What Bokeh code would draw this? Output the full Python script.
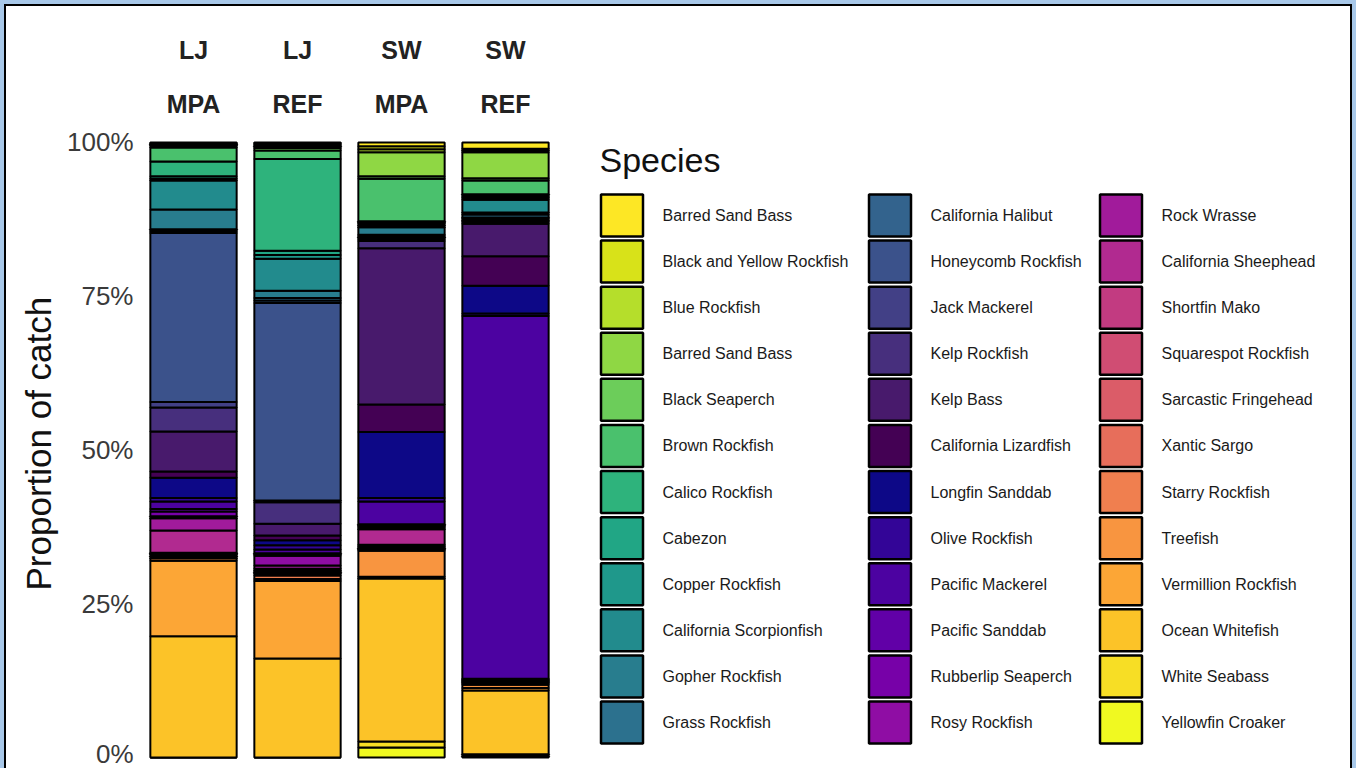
from bokeh.plotting import figure
from bokeh.models import ColumnDataSource, Range1d, FixedTicker, NumeralTickFormatter, Title
from bokeh.core.properties import value
from bokeh.embed import file_html
from bokeh.resources import INLINE

# ---------------- data ----------------
regions = ["LJ", "LJ", "SW", "SW"]
zones = ["MPA", "REF", "MPA", "REF"]
sites = [f"{r} {z}" for r, z in zip(regions, zones)]

species = [
    "Barred Sand Bass", "Black and Yellow Rockfish", "Blue Rockfish", "Barred Sand Bass",
    "Black Seaperch", "Brown Rockfish", "Calico Rockfish", "Cabezon",
    "Copper Rockfish", "California Scorpionfish", "Gopher Rockfish", "Grass Rockfish",
    "California Halibut", "Honeycomb Rockfish", "Jack Mackerel", "Kelp Rockfish",
    "Kelp Bass", "California Lizardfish", "Longfin Sanddab", "Olive Rockfish",
    "Pacific Mackerel", "Pacific Sanddab", "Rubberlip Seaperch", "Rosy Rockfish",
    "Rock Wrasse", "California Sheephead", "Shortfin Mako", "Squarespot Rockfish",
    "Sarcastic Fringehead", "Xantic Sargo", "Starry Rockfish", "Treefish",
    "Vermillion Rockfish", "Ocean Whitefish", "White Seabass", "Yellowfin Croaker",
]

colors = [
    "#FDE725", "#D8E219", "#B5DE2B", "#8FD744", "#6CCD5A", "#4AC16D",
    "#2EB37C", "#21A685", "#1F988B", "#228B8D", "#287D8E", "#2C718E",
    "#33638D", "#3B528B", "#424086", "#472F7D", "#481A6C", "#440154",
    "#0D0887", "#330597", "#4C02A1", "#6100A7", "#7701A8", "#8F0DA4",
    "#A11B9B", "#B12A90", "#C23B81", "#D04D73", "#DB5C68", "#E76E5B",
    "#F07F4F", "#F89540", "#FCA636", "#FCC328", "#F7DE25", "#F0F921",
]

# percent of catch, in the legend order above
lj_mpa = [0.1, 0.1, 0.1, 0.2, 0.3, 2.3, 2.4, 0.4, 0.3, 4.7, 3.2, 0.3,
          0.3, 27.5, 0.9, 3.9, 6.5, 1.0, 3.3, 0.6, 1.2, 0.4, 0.8, 0.3,
          2.0, 3.6, 0.0, 0.1, 0.2, 0.3, 0.3, 0.4, 12.3, 19.7, 0.0, 0.0]
lj_ref = [0.2, 0.2, 0.2, 0.3, 0.4, 1.4, 14.9, 0.7, 0.6, 5.2, 1.2, 0.4,
          0.4, 32.1, 0.3, 3.5, 1.9, 0.8, 0.8, 0.7, 0.6, 0.2, 0.2, 1.6,
          0.5, 0.3, 0.1, 0.2, 0.2, 0.3, 0.6, 0.3, 12.6, 16.1, 0.0, 0.0]
sw_mpa = [0.6, 0.5, 0.5, 3.9, 0.4, 6.9, 0.2, 0.2, 0.3, 0.3, 1.2, 0.2,
          0.2, 0.3, 0.3, 1.2, 25.4, 4.5, 10.7, 0.6, 3.7, 0.2, 0.2, 0.2,
          0.2, 2.5, 0.2, 0.2, 0.2, 0.2, 0.2, 4.2, 0.3, 26.5, 1.0, 1.6]
sw_ref = [1.0, 0.3, 0.3, 4.2, 0.4, 2.2, 0.3, 0.3, 0.3, 2.1, 0.3, 0.5,
          0.2, 0.3, 0.2, 0.3, 5.3, 4.8, 4.5, 0.4, 59.0, 0.0, 0.0, 0.1,
          0.1, 0.1, 0.1, 0.1, 0.1, 0.2, 0.2, 0.5, 0.4, 10.4, 0.3, 0.2]

y_ticks = [0, 0.25, 0.5, 0.75, 1.0]
y_title = "Proportion of catch"
legend_title = "Species"

# ---------------- layout constants (pixels) ----------------
FONT = "Liberation Sans"
W, H = 1356, 768
LEFT, TOP = 141, 12            # frame origin
BAND = 104.0                   # px per site
PX_UNIT = 615.0                # px per 100 %
Y0_PX = 757.0                  # pixel row of 0 %
X_END = (W - LEFT) / BAND
Y_TOP = (Y0_PX - TOP) / PX_UNIT
Y_BOT = -0.005
FRAME_BOTTOM = int(round(Y0_PX + (-Y_BOT) * PX_UNIT))
BOTTOM = H - FRAME_BOTTOM


def px_to_x(px):
    return (px - LEFT) / BAND


def px_to_y(py):
    return (Y0_PX - py) / PX_UNIT


# ---------------- build ----------------
n = len(species)
keys = [f"sp{i:02d}" for i in range(n)]
pos = [i + 0.5 for i in range(len(sites))]          # one band per site
data = {"site": sites, "pos": pos}
for i, k in enumerate(keys):
    data[k] = [vals[i] / 100.0 for vals in (lj_mpa, lj_ref, sw_mpa, sw_ref)]
source = ColumnDataSource(data)

frame_css = ", ".join([
    "inset 4px 0 0 0 #a8c8e9", "inset 0 4px 0 0 #a8c8e9", "inset -4px 0 0 0 #a8c8e9",
    "inset 6px 0 0 0 #000000", "inset 0 6px 0 0 #000000", "inset -6px 0 0 0 #000000",
])
p = figure(
    width=W, height=H,
    x_range=Range1d(0, X_END),
    y_range=Range1d(Y_BOT, Y_TOP),
    output_backend="svg", toolbar_location=None,
    x_axis_location=None,
    min_border_left=LEFT, min_border_right=0, min_border_top=TOP, min_border_bottom=BOTTOM,
    styles={"background-color": "white", "box-shadow": frame_css},
)
p.outline_line_color = None
p.grid.visible = False
p.background_fill_alpha = 0
p.border_fill_alpha = 0

# bottom of the stack is the last legend entry
stack_keys = keys[::-1]
p.vbar_stack(stack_keys, x="pos", width=0.83, source=source,
             fill_color=colors[::-1], line_color="black", line_width=2)

# site labels above the bars (two lines)
lab_src = ColumnDataSource(dict(pos=pos, region=regions, zone=zones,
                                y1=[px_to_y(50)] * len(sites), y2=[px_to_y(104)] * len(sites)))
for col, ycol in (("region", "y1"), ("zone", "y2")):
    p.text(x="pos", y=ycol, text=col, source=lab_src, text_align="center",
           text_baseline="middle", text_font=value(FONT), text_font_size="25px",
           text_font_style="bold", text_color="#222222")

# y axis
yax = p.yaxis[0]
yax.ticker = FixedTicker(ticks=y_ticks)
yax.formatter = NumeralTickFormatter(format="0%")
yax.axis_line_color = None
yax.major_tick_line_color = None
yax.minor_tick_line_color = None
yax.major_tick_out = 0
yax.major_label_standoff = 8
yax.major_label_text_font = FONT
yax.major_label_text_font_size = "26px"
yax.major_label_text_color = "#3a3a3a"

# y title (centred on the 0-100 % span, not on the whole frame)
p.add_layout(Title(text=y_title, align="left", offset=FRAME_BOTTOM - 590,
                   text_font=FONT, text_font_size="35px", text_font_style="normal",
                   text_color="#111111", standoff=13), "left")

# legend: three columns of twelve keys
COL_LEFT = [600, 868, 1099]
ROW0, ROW_STEP = 215.0, 46.1
KEY_W, KEY_H = 42, 42
kx, ky, tx = [], [], []
for i in range(n):
    c, r = divmod(i, 12)
    kx.append(px_to_x(COL_LEFT[c] + 21.5))
    ky.append(px_to_y(ROW0 + r * ROW_STEP))
    tx.append(px_to_x(COL_LEFT[c] + 62))
leg_src = ColumnDataSource(dict(kx=kx, ky=ky, tx=tx, label=species, color=colors))
p.rect(x="kx", y="ky", width=KEY_W, height=KEY_H, width_units="screen", height_units="screen",
       source=leg_src, fill_color="color", line_color="black", line_width=2.5)
p.text(x="tx", y="ky", text="label", source=leg_src, text_align="left", text_baseline="middle",
       text_font=value(FONT), text_font_size="16px", text_color="#1a1a1a")
p.text(x=[px_to_x(COL_LEFT[0] - 1)], y=[px_to_y(160)], text=[legend_title], text_align="left",
       text_baseline="middle", text_font=value(FONT), text_font_size="34px",
       text_color="#111111")

open("out.html", "w").write(file_html(p, INLINE))
